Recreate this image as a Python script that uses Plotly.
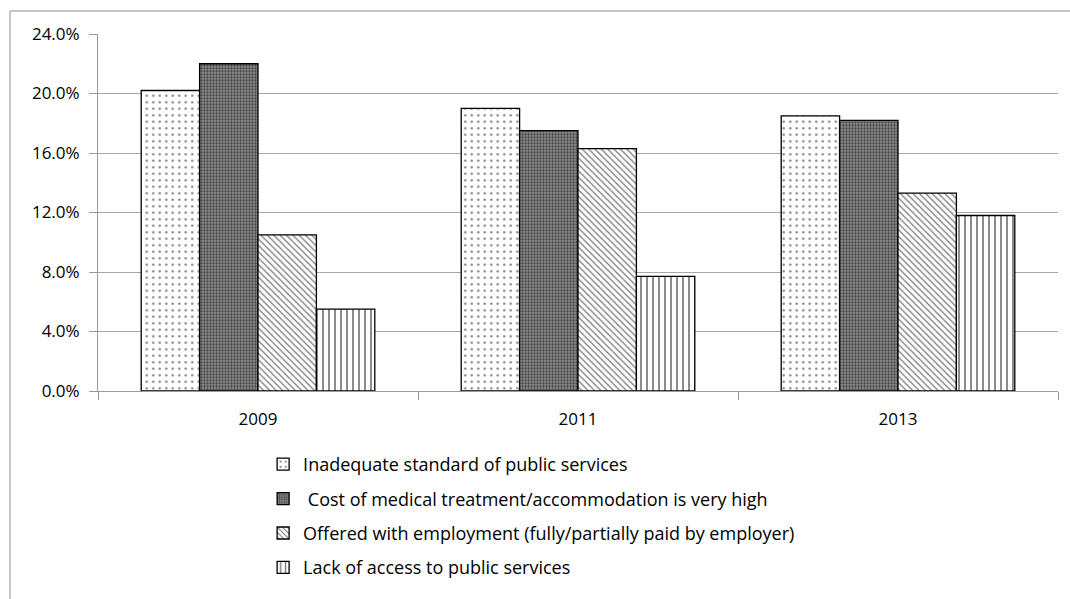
import plotly.graph_objects as go

years = ["2009", "2011", "2013"]
series_names = [
    "Inadequate standard of public services",
    " Cost of medical treatment/accommodation is very high",
    "Offered with employment (fully/partially paid by employer)",
    "Lack of access to public services",
]
inadequate_standard = [0.202, 0.190, 0.185]
cost_high = [0.220, 0.175, 0.182]
offered_employment = [0.105, 0.163, 0.133]
lack_access = [0.055, 0.077, 0.118]

values = [inadequate_standard, cost_high, offered_employment, lack_access]
patterns = [
    dict(shape=".", size=6.5, solidity=0.12, fgcolor="black", bgcolor="white", fillmode="overlay"),
    dict(shape=".", size=3, solidity=0.45, fgcolor="black", bgcolor="#8c8c8c", fillmode="overlay"),
    dict(shape="\\", size=4.5, solidity=0.3, fgcolor="black", bgcolor="white", fillmode="overlay"),
    dict(shape="|", size=6, solidity=0.3, fgcolor="black", bgcolor="white", fillmode="overlay"),
]

fig = go.Figure()
for i, (name, vals, pat) in enumerate(zip(series_names, values, patterns)):
    fig.add_trace(go.Bar(
        x=years, y=vals, name=name, legendgroup=f"g{i}",
        marker=dict(color="white", pattern=pat, line=dict(color="black", width=1.3)),
    ))

font = "Open Sans, Liberation Sans, sans-serif"
fig.update_layout(
    width=1070, height=599,
    margin=dict(l=98, r=12, t=34, b=208, autoexpand=False),
    paper_bgcolor="white", plot_bgcolor="white",
    barmode="group", bargap=0.27, bargroupgap=0,
    font=dict(family=font, size=17, color="black"),
    showlegend=True,
    legend=dict(
        orientation="v", x=0.172, xanchor="left", y=-0.154, yanchor="top",
        font=dict(family=font, size=18, color="black"),
        tracegroupgap=8, itemwidth=30, bgcolor="rgba(0,0,0,0)",
    ),
    xaxis=dict(
        showgrid=False, showline=True, linecolor="#9a9a9a", linewidth=1,
        ticks="outside", tickson="boundaries", ticklen=8, tickcolor="#9a9a9a",
        tickfont=dict(size=17), ticklabelstandoff=13, fixedrange=True,
    ),
    yaxis=dict(
        range=[0, 0.24], dtick=0.04, tickformat=".1%",
        showgrid=True, gridcolor="#a6a6a6", gridwidth=1,
        showline=True, linecolor="#9a9a9a", linewidth=1,
        ticks="outside", ticklen=8, tickcolor="#9a9a9a",
        tickfont=dict(size=17), ticklabelstandoff=6, zeroline=False,
    ),
    shapes=[dict(
        type="rect", xref="paper", yref="paper",
        x0=(10 - 98) / 960, x1=1.1, y0=-0.7, y1=(391 - 11) / 357,
        line=dict(color="#8c8c8c", width=1), fillcolor="rgba(0,0,0,0)", layer="below",
    )],
)

fig.write_html("out.html")
